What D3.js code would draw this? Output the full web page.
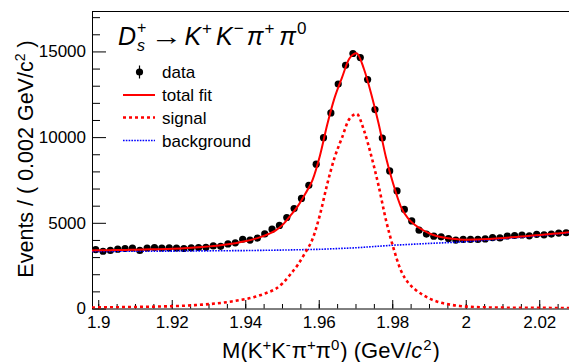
<!DOCTYPE html>
<html>
<head>
<meta charset="utf-8">
<script src="https://cdn.jsdelivr.net/npm/d3@7"></script>
<style>
  html, body { margin: 0; padding: 0; background: #fff; }
  svg { display: block; }
  text { font-family: "Liberation Sans", Arial, Helvetica, sans-serif; fill: #000; }
</style>
</head>
<body>
<svg id="chart" width="569" height="362"></svg>
<script>
// Invariant-mass histogram: bins of 2 MeV starting at 1.8983 GeV/c^2
const BIN_START = 1.8983;
const BIN_WIDTH = 0.002;

// Events per bin (data points)
const counts = [
  3440, 3340, 3390, 3460, 3500, 3530, 3390, 3530, 3560, 3530,
  3540, 3530, 3500, 3540, 3560, 3570, 3650, 3630, 3770, 3830,
  4040, 3990, 4110, 4350, 4630, 4850, 5310, 5830, 6420, 7190,
  8420, 9970, 11410, 13100, 14190, 14880, 14640, 13360, 11610, 9950,
  8030, 6860, 5780, 5110, 4570, 4340, 4220, 4180, 4080, 3990,
  4030, 4030, 4030, 4060, 4140, 4120, 4230, 4260, 4290, 4240,
  4330, 4300, 4340, 4400, 4420
];

// Fit components sampled at the bin edges
const signalFit = [
  60, 64, 68, 73, 78, 84, 90, 97, 105, 114,
  124, 136, 152, 172, 196, 225, 260, 300, 350, 410,
  480, 560, 660, 790, 950, 1150, 1500, 2000, 2550, 3250,
  4050, 5450, 7250, 8800, 9950, 11050, 11350, 10400, 8900, 7150,
  5150, 3550, 2250, 1520, 1100, 800, 560, 400, 285, 205,
  150, 112, 88, 72, 62, 55, 50, 46, 43, 40,
  38, 36, 34, 32, 30, 28
];
const backgroundFit = [
  3330, 3332, 3334, 3336, 3337, 3339, 3341, 3343, 3345, 3347,
  3349, 3350, 3353, 3356, 3359, 3362, 3365, 3368, 3371, 3374,
  3377, 3380, 3386, 3392, 3398, 3404, 3410, 3418, 3427, 3436,
  3445, 3454, 3472, 3490, 3508, 3526, 3546, 3575, 3605, 3635,
  3665, 3695, 3715, 3735, 3758, 3780, 3800, 3818, 3838, 3858,
  3880, 3905, 3935, 3966, 3998, 4032, 4068, 4106, 4144, 4182,
  4220, 4258, 4298, 4338, 4378, 4420
];
const totalFit = [
  3390, 3396, 3402, 3409, 3415, 3423, 3431, 3440, 3450, 3461,
  3473, 3486, 3505, 3528, 3555, 3587, 3625, 3668, 3721, 3784,
  3857, 3940, 4046, 4182, 4348, 4554, 4910, 5418, 5977, 6686,
  7495, 8904, 10722, 12290, 13458, 14576, 14896, 13975, 12505, 10785,
  8815, 7245, 5965, 5255, 4858, 4580, 4360, 4218, 4123, 4063,
  4030, 4017, 4023, 4038, 4060, 4087, 4118, 4152, 4187, 4222,
  4258, 4294, 4332, 4370, 4408, 4448
];

// Axis ticks and labels
const xTicks = [1.90, 1.92, 1.94, 1.96, 1.98, 2.00, 2.02];
const xTickLabels = ["1.9", "1.92", "1.94", "1.96", "1.98", "2", "2.02"];
const xMinorTicks = [1.90, 1.905, 1.91, 1.915, 1.92, 1.925, 1.93, 1.935, 1.94, 1.945,
  1.95, 1.955, 1.96, 1.965, 1.97, 1.975, 1.98, 1.985, 1.99, 1.995, 2.00, 2.005,
  2.01, 2.015, 2.02, 2.025, 2.03, 2.035];
const yTicks = [0, 5000, 10000, 15000];
const yTickLabels = ["0", "5000", "10000", "15000"];
const yMinorTicks = [1000, 2000, 3000, 4000, 6000, 7000, 8000, 9000,
  11000, 12000, 13000, 14000, 16000, 17000];

const legendItems = [
  { key: "data", label: "data" },
  { key: "total", label: "total fit" },
  { key: "signal", label: "signal" },
  { key: "background", label: "background" }
];

// ---------- layout ----------
const X_MIN = BIN_START, X_MAX = 2.0383;
const Y_MAX = 17330;
const plot = { left: 92, top: 11.5, bottom: 308.5 };
const pxPerUnit = 73.5 / 0.02;
plot.right = plot.left + (X_MAX - X_MIN) * pxPerUnit;

const svg = d3.select("#chart");
const x = d3.scaleLinear().domain([X_MIN, X_MAX]).range([plot.left, plot.right]);
const y = d3.scaleLinear().domain([0, Y_MAX]).range([plot.bottom, plot.top]);

svg.append("defs").append("clipPath").attr("id", "plotClip")
  .append("rect")
  .attr("x", plot.left).attr("y", plot.top)
  .attr("width", plot.right - plot.left).attr("height", plot.bottom - plot.top);

const binCenters = counts.map((_, i) => BIN_START + BIN_WIDTH * (i + 0.5));
const fitGrid = signalFit.map((_, k) => BIN_START + BIN_WIDTH * k);

// ---------- axes ----------
const fmtX = v => xTickLabels[xTicks.findIndex(t => Math.abs(t - v) < 1e-9)];
const fmtY = v => yTickLabels[yTicks.indexOf(v)];

const gx = svg.append("g").attr("transform", `translate(0,${plot.bottom})`);
gx.call(d3.axisBottom(x).tickValues(xTicks).tickFormat(fmtX)
  .tickSizeInner(-8.5).tickSizeOuter(0).tickPadding(7));
const gxMinor = svg.append("g").attr("transform", `translate(0,${plot.bottom})`);
gxMinor.call(d3.axisBottom(x).tickValues(xMinorTicks).tickFormat("")
  .tickSizeInner(-4.5).tickSizeOuter(0));
gxMinor.select(".domain").remove();

const gy = svg.append("g").attr("transform", `translate(${plot.left},0)`);
gy.call(d3.axisLeft(y).tickValues(yTicks).tickFormat(fmtY)
  .tickSizeInner(-14).tickSizeOuter(0).tickPadding(6));
const gyMinor = svg.append("g").attr("transform", `translate(${plot.left},0)`);
gyMinor.call(d3.axisLeft(y).tickValues(yMinorTicks).tickFormat("")
  .tickSizeInner(-8).tickSizeOuter(0));
gyMinor.select(".domain").remove();

svg.selectAll(".tick text")
  .attr("font-size", 17)
  .attr("font-family", "'Liberation Sans', Arial, sans-serif");
svg.selectAll(".domain, .tick line").attr("stroke", "#000").attr("stroke-width", 1);

// top frame line
svg.append("line")
  .attr("x1", plot.left).attr("x2", plot.right)
  .attr("y1", plot.top).attr("y2", plot.top)
  .attr("stroke", "#000").attr("stroke-width", 1);

// ---------- data & fit ----------
const layer = svg.append("g").attr("clip-path", "url(#plotClip)");

const points = layer.append("g").selectAll("g").data(counts).join("g");
points.append("line")
  .attr("x1", (d, i) => x(binCenters[i])).attr("x2", (d, i) => x(binCenters[i]))
  .attr("y1", d => y(d + Math.sqrt(d))).attr("y2", d => y(d - Math.sqrt(d)))
  .attr("stroke", "#000").attr("stroke-width", 1.2);
points.append("circle")
  .attr("cx", (d, i) => x(binCenters[i])).attr("cy", d => y(d))
  .attr("r", 3.6).attr("fill", "#000");

const lineGen = vals => d3.line()
  .x((d, k) => x(fitGrid[k])).y(d => y(d))
  .curve(d3.curveMonotoneX)(vals);

const styles = {
  total: { stroke: "#ff0000", width: 2, dash: null },
  signal: { stroke: "#ff0000", width: 2.6, dash: "3,3" },
  background: { stroke: "#0000ff", width: 1.6, dash: "1.6,1.2" }
};

layer.append("path").attr("d", lineGen(backgroundFit)).attr("fill", "none")
  .attr("stroke", styles.background.stroke).attr("stroke-width", styles.background.width)
  .attr("stroke-dasharray", styles.background.dash);
layer.append("path").attr("d", lineGen(signalFit)).attr("fill", "none")
  .attr("stroke", styles.signal.stroke).attr("stroke-width", styles.signal.width)
  .attr("stroke-dasharray", styles.signal.dash);
layer.append("path").attr("d", lineGen(totalFit)).attr("fill", "none")
  .attr("stroke", styles.total.stroke).attr("stroke-width", styles.total.width);

// ---------- legend ----------
const legend = svg.append("g");
const rowY = [72, 95, 117.5, 140.5];
legendItems.forEach((item, i) => {
  const cy = rowY[i];
  if (item.key === "data") {
    legend.append("line").attr("x1", 139.5).attr("x2", 139.5)
      .attr("y1", cy - 6.5).attr("y2", cy + 6.5).attr("stroke", "#000").attr("stroke-width", 1.2);
    legend.append("circle").attr("cx", 139.5).attr("cy", cy).attr("r", 3.6).attr("fill", "#000");
  } else {
    const s = styles[item.key];
    legend.append("line").attr("x1", 123).attr("x2", 155).attr("y1", cy).attr("y2", cy)
      .attr("stroke", s.stroke).attr("stroke-width", s.width)
      .attr("stroke-dasharray", s.dash);
  }
  legend.append("text").attr("x", 162).attr("y", cy + 6)
    .attr("font-size", 17).text(item.label);
});

// ---------- decay title ----------
function mathLine(parent, x0, y0, parts) {
  const g = parent.append("g");
  let cx = x0;
  const add = (str, xx, yy, size, italic, widthTarget) => {
    const holder = g.append("g").attr("transform", `translate(${xx},${yy})`);
    const t = holder.append("text").attr("x", 0).attr("y", 0)
      .attr("font-family", "'Liberation Serif', 'DejaVu Serif', serif")
      .attr("font-size", size)
      .attr("font-style", italic ? "italic" : "normal")
      .text(str);
    const w = t.node().getComputedTextLength();
    if (widthTarget) {
      holder.attr("transform", `translate(${xx},${yy}) scale(${widthTarget / w},1)`);
      return widthTarget;
    }
    return w;
  };
  parts.forEach(p => {
    if (p.stack) {
      const w1 = add(p.stack[0], cx, y0 - 12, 16, false);
      const w2 = add(p.stack[1], cx, y0 + 6, 16, true);
      cx += Math.max(w1, w2) + (p.gap || 0);
    } else if (p.sup) {
      cx += add(p.sup, cx, y0 - 11, 17, false) + (p.gap || 0);
    } else {
      cx += add(p.text, cx, y0, 25, p.italic, p.width) + (p.gap || 0);
    }
  });
  return g;
}
mathLine(svg, 118, 45, [
  { text: "D", italic: true, gap: 1 },
  { stack: ["+", "s"], gap: 4 },
  { text: "\u2192", italic: false, gap: 2, width: 32 },
  { text: "K", italic: true, gap: 1 },
  { sup: "+", gap: 4 },
  { text: "K", italic: true, gap: 1 },
  { sup: "\u2212", gap: 3 },
  { text: "\u03C0", italic: true, gap: 1 },
  { sup: "+", gap: 5 },
  { text: "\u03C0", italic: true, gap: 1 },
  { sup: "0" }
]);

// ---------- axis titles ----------
const xTitle = svg.append("text").attr("x", 331).attr("y", 358)
  .attr("text-anchor", "middle").attr("font-size", 22);
xTitle.append("tspan").text("M(K");
xTitle.append("tspan").attr("font-size", 15).attr("dy", -8).text("+");
xTitle.append("tspan").attr("dy", 8).text("K");
xTitle.append("tspan").attr("font-size", 15).attr("dy", -8).text("-");
xTitle.append("tspan").attr("dy", 8).attr("dx", 1).text("\u03C0");
xTitle.append("tspan").attr("font-size", 15).attr("dy", -8).text("+");
xTitle.append("tspan").attr("dy", 8).text("\u03C0");
xTitle.append("tspan").attr("font-size", 15).attr("dy", -8).text("0");
xTitle.append("tspan").attr("dy", 8).attr("dx", 1).text(") (GeV/");
xTitle.append("tspan").attr("font-style", "italic").text("c");
xTitle.append("tspan").attr("font-size", 15).attr("dy", -8).attr("dx", 1).text("2");
xTitle.append("tspan").attr("dy", 8).attr("dx", 1).text(")");

const yTitle = svg.append("text")
  .attr("transform", "translate(33,159) rotate(-90)")
  .attr("text-anchor", "middle").attr("font-size", 21.5);
yTitle.append("tspan").text("Events / ( 0.002 GeV/c");
yTitle.append("tspan").attr("font-size", 14).attr("dy", -8).text("2");
yTitle.append("tspan").attr("dy", 8).text(" )");
</script>
</body>
</html>
